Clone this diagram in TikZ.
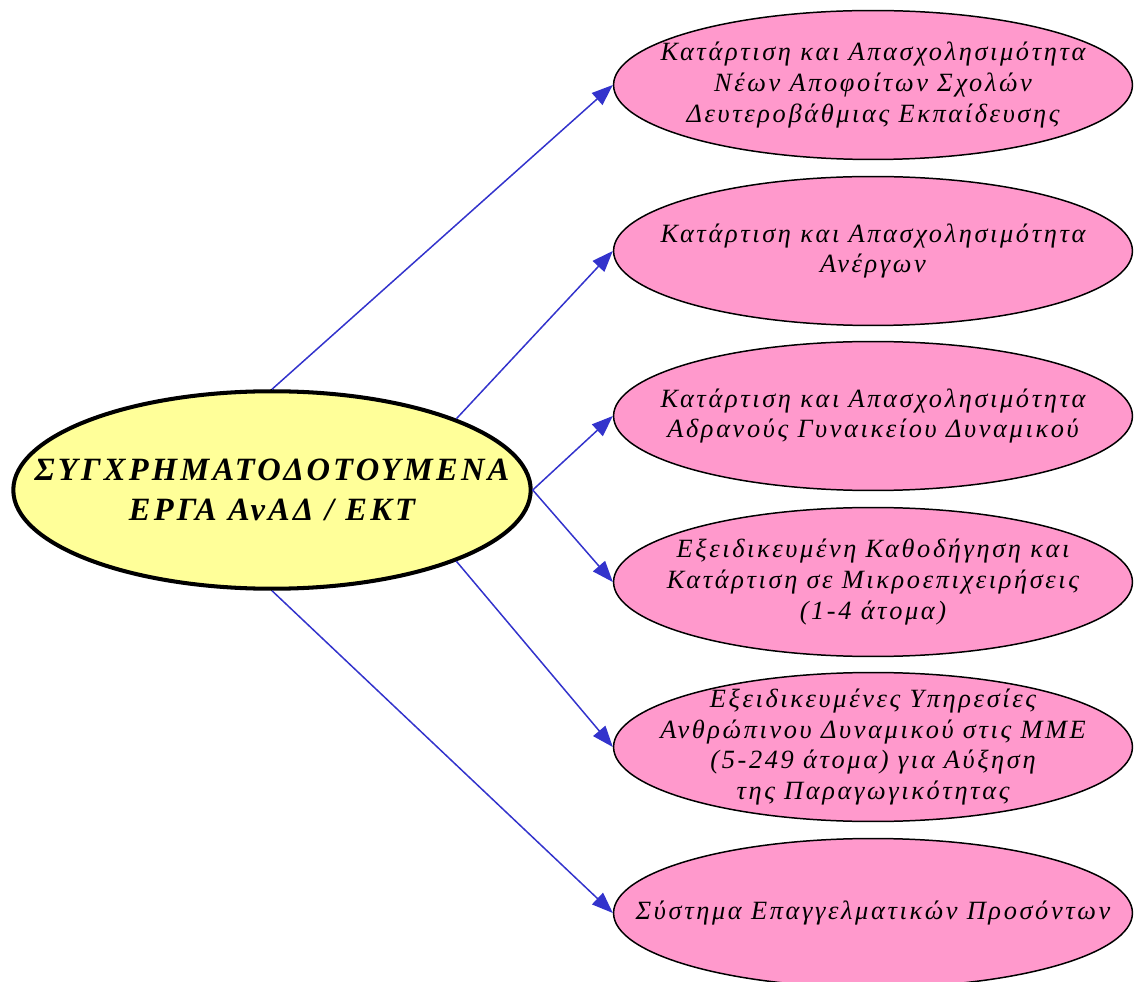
\documentclass[tikz,border=0pt]{standalone}
\usepackage{fontspec}
\setmainfont{Liberation Serif}
\newfontfamily\grfont[LetterSpace=10]{Liberation Serif}
\usetikzlibrary{shapes.geometric,arrows.meta}
\definecolor{linkblue}{RGB}{51,51,204}
\definecolor{themepink}{RGB}{255,153,204}
\definecolor{rootyellow}{RGB}{255,255,153}
\tikzset{
  rootnode/.style={ellipse,draw,line width=2.3pt,fill=rootyellow,inner sep=0pt,
    minimum width=10.35cm,minimum height=3.95cm},
  themenode/.style={ellipse,draw,line width=0.85pt,fill=themepink,inner sep=0pt,
    minimum width=10.38cm,minimum height=2.98cm},
  themetext/.style={align=center,inner sep=0pt,
    font=\grfont\itshape\fontsize{15}{17.6}\selectfont},
  roottext/.style={align=center,inner sep=0pt,
    font=\grfont\bfseries\itshape\fontsize{18.5}{22.7}\selectfont},
  link/.style={draw=linkblue,line width=0.85pt,-{Triangle[length=12pt,width=9pt]},fill=linkblue}
}
\begin{document}
\begin{tikzpicture}[x=0.02cm,y=-0.02cm]
				\useasboundingbox (0,0) rectangle (1135,982);
				\node[rootnode,label={[roottext]center:ΣΥΓΧΡΗΜΑΤΟΔΟΤΟΥΜΕΝΑ\\ΕΡΓΑ ΑνΑΔ / ΕΚΤ}] (root) at (272,490) {};
				\node[themenode,label={[themetext]center:Κατάρτιση και Απασχολησιμότητα\\Νέων Αποφοίτων Σχολών\\Δευτεροβάθμιας Εκπαίδευσης}] (t1) at (873,85) {};
				\node[themenode,label={[themetext]center:Κατάρτιση και Απασχολησιμότητα\\Ανέργων}] (t2) at (873,251) {};
				\node[themenode,label={[themetext]center:Κατάρτιση και Απασχολησιμότητα\\Αδρανούς Γυναικείου Δυναμικού}] (t3) at (873,416) {};
				\node[themenode,label={[themetext]center:Εξειδικευμένη Καθοδήγηση και\\Κατάρτιση σε Μικροεπιχειρήσεις\\(1-4 άτομα)}] (t4) at (873,582) {};
				\node[themenode,label={[themetext]center:Εξειδικευμένες Υπηρεσίες\\Ανθρώπινου Δυναμικού στις ΜΜΕ\\(5-249 άτομα) για Αύξηση\\της Παραγωγικότητας}] (t5) at (873,747) {};
				\node[themenode,label={[themetext]center:Σύστημα Επαγγελματικών Προσόντων}] (t6) at (873,913) {};
				\draw[link] (root.north) -- (t1.west);
				\draw[link] (root.north east) -- (t2.west);
				\draw[link] (root.east) -- (t3.west);
				\draw[link] (root.east) -- (t4.west);
				\draw[link] (root.south east) -- (t5.west);
				\draw[link] (root.south) -- (t6.west);
\end{tikzpicture}
\end{document}
